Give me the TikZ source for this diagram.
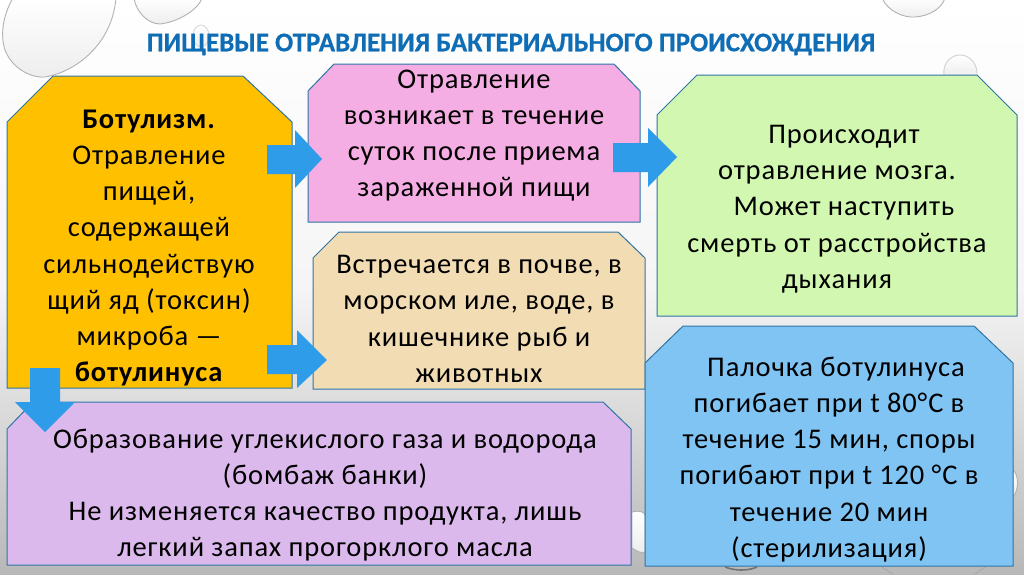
\documentclass[tikz,border=0pt]{standalone}
\usepackage{fontspec}
\setmainfont{Carlito}[LetterSpace=3]
\newfontfamily\titlefont{Carlito}[BoldFeatures={FakeBold=0.6}]
\usetikzlibrary{shadings}
\definecolor{boxline}{HTML}{2E75A6}
\definecolor{arrowblue}{HTML}{2E9CE8}
\definecolor{cyellow}{HTML}{FFC000}
\definecolor{cpink}{HTML}{F5AEE3}
\definecolor{ctan}{HTML}{F2DCB4}
\definecolor{cgreen}{HTML}{D2F7B0}
\definecolor{cblue}{HTML}{80C4F4}
\definecolor{cpurple}{HTML}{DBB9EC}
\definecolor{ctitle}{HTML}{0F6DB5}
\definecolor{bgbot}{HTML}{B8B8B8}
\tikzset{
 x=1pt,y=-1pt,
 boxshape/.style={draw=boxline,line width=1pt,line join=miter},
 blockarrow/.style={fill=arrowblue,draw=none},
 boxtext/.style={align=center,inner sep=0pt,text=black,font=\fontsize{28.5}{36.2}\selectfont},
 titletext/.style={inner sep=0pt,text=ctitle,font=\titlefont\bfseries\fontsize{26.9}{30}\selectfont},
 drop/.style={top color=white,bottom color=black!7,draw=black!30,line width=.9pt},
}
\begin{document}
\begin{tikzpicture}
\useasboundingbox (0,0) rectangle (1024,574);
% background
\fill[top color=white,bottom color=bgbot,middle color=black!4,shading angle=0] (0,0) rectangle (1024,574);
% droplets
\draw[drop] (13,-2) .. controls (3,15) and (0,35) .. (5,50) .. controls (12,68) and (30,78) .. (45,77) .. controls (75,72) and (112,45) .. (116,-2) -- cycle;
\draw[drop] (134,-2) .. controls (136,12) and (148,24) .. (160,24) .. controls (178,22) and (198,10) .. (202,-2) -- cycle;
\draw[drop,draw=black!15] (201,36) ellipse [x radius=8,y radius=11];
\draw[drop] (882,-2) .. controls (888,12) and (905,18) .. (915,17) .. controls (930,16) and (942,8) .. (945,-2) -- cycle;
\draw[drop,draw=black!18] (944,76) .. controls (942,62) and (952,55) .. (960,55) .. controls (970,55) and (978,64) .. (977,76) -- cycle;
\draw[drop] (1013,470) .. controls (1019,475) and (1019,490) .. (1013,497) -- cycle;
\draw[drop] (632,512) .. controls (640,510) and (645,512) .. (645,516) -- (645,552) .. controls (640,554) and (636,550) .. (632,548) -- cycle;
\draw[black!55,line width=1.6pt] (725,567) .. controls (735,571) and (748,571) .. (757,567);
\draw[black!35,line width=.8pt] (882,567) -- (893,574);
\draw[black!35,line width=.8pt] (985,567) -- (975,574);
% boxes
\path[boxshape,fill=cyellow] (53,76) -- (243,76) -- (292,122) -- (292,388) -- (7,388) -- (7,122) -- cycle;
\path[boxshape,fill=cpink] (334,64) -- (614,64) -- (640,91) -- (640,222) -- (308,222) -- (308,91) -- cycle;
\path[boxshape,fill=ctan] (339,232) -- (618,232) -- (645,258) -- (645,389) -- (313,389) -- (313,258) -- cycle;
\path[boxshape,fill=cgreen] (697,75) -- (977,75) -- (1017,115) -- (1017,316) -- (657,316) -- (657,115) -- cycle;
\path[boxshape,fill=cblue] (683,326) -- (974,326) -- (1013,363) -- (1013,566) -- (645,566) -- (645,363) -- cycle;
\path[boxshape,fill=cpurple] (33,402) -- (603,402) -- (631,429) -- (631,565) -- (7,565) -- (7,429) -- cycle;
% arrows
\path[blockarrow] (267,145) -- (295,145) -- (295,130) -- (322,159) -- (295,188) -- (295,174) -- (267,174) -- cycle;
\path[blockarrow] (267,345) -- (297,345) -- (297,330) -- (327,360) -- (297,388) -- (297,374) -- (267,374) -- cycle;
\path[blockarrow] (613,143) -- (648,143) -- (648,128) -- (677,157) -- (648,187) -- (648,172) -- (613,172) -- cycle;
\path[blockarrow] (30,368) -- (60,368) -- (60,402) -- (75,402) -- (45,432) -- (15,402) -- (30,402) -- cycle;
% texts
\node[titletext] (title) at (511,44.5) {ПИЩЕВЫЕ ОТРАВЛЕНИЯ БАКТЕРИАЛЬНОГО ПРОИСХОЖДЕНИЯ};
\node[boxtext] (tyellow) at (149,248) {\textbf{Ботулизм.}\\Отравление\\пищей,\\содержащей\\сильнодействую\\щий яд (токсин)\\микроба —\\\textbf{ботулинуса}};
\node[boxtext] (tpink) at (474,135.5) {Отравление\\возникает в течение\\суток после приема\\зараженной пищи};
\node[boxtext] (ttan) at (479,319) {Встречается в почве, в\\морском иле, воде, в\\кишечнике рыб и\\животных};
\node[boxtext] (tgreen) at (837,209) {\hspace*{14pt}Происходит\\отравление мозга.\\\hspace*{14pt}Может наступить\\смерть от расстройства\\дыхания};
\node[boxtext] (tblue) at (829,459.5) {\hspace*{14pt}Палочка ботулинуса\\погибает при t 80°C в\\течение 15 мин, споры\\погибают при t 120 °C в\\течение 20 мин\\(стерилизация)};
\node[boxtext] (tpurple) at (325,495) {Образование углекислого газа и водорода\\(бомбаж банки)\\Не изменяется качество продукта, лишь\\легкий запах прогорклого масла};
\end{tikzpicture}
\end{document}
